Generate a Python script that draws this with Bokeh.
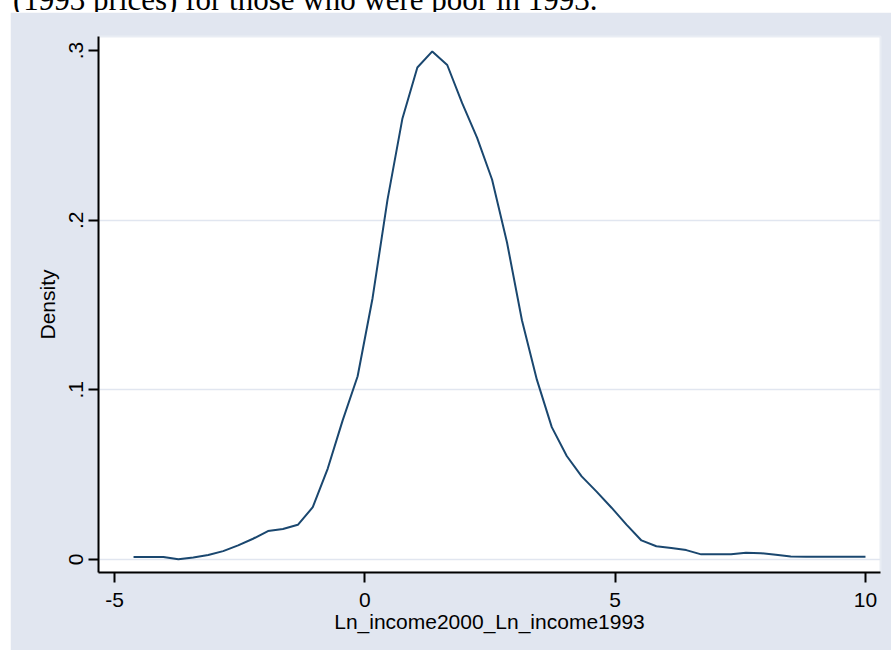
from bokeh.plotting import figure
from bokeh.models import FixedTicker, Range1d, Div
from bokeh.layouts import column
from bokeh.embed import file_html
from bokeh.resources import INLINE

# ---- data ----
x_vals = [-4.620, -4.322, -4.023, -3.725, -3.427, -3.128, -2.830, -2.531, -2.233, -1.935,
          -1.636, -1.338, -1.040, -0.741, -0.443, -0.144, 0.154, 0.452, 0.751, 1.049,
          1.347, 1.646, 1.944, 2.243, 2.541, 2.839, 3.138, 3.436, 3.734, 4.033,
          4.331, 4.629, 4.928, 5.226, 5.525, 5.823, 6.121, 6.420, 6.718, 7.016,
          7.315, 7.613, 7.912, 8.210, 8.508, 8.807, 9.105, 9.403, 9.702, 10.000]
density = [0.0015, 0.0015, 0.0015, 0.0001, 0.0012, 0.0026, 0.0049, 0.0083, 0.0122, 0.0167,
           0.0179, 0.0204, 0.0308, 0.0536, 0.0820, 0.1080, 0.1540, 0.2120, 0.2600, 0.2900,
           0.2995, 0.2915, 0.2690, 0.2485, 0.2240, 0.1870, 0.1410, 0.1060, 0.0780, 0.0610,
           0.0490, 0.0400, 0.0305, 0.0205, 0.0112, 0.0078, 0.0068, 0.0055, 0.0030, 0.0030,
           0.0030, 0.0040, 0.0037, 0.0028, 0.0018, 0.0016, 0.0016, 0.0016, 0.0016, 0.0016]

x_ticks = [-5, 0, 5, 10]
x_tick_labels = ["-5", "0", "5", "10"]
y_ticks = [0, 0.1, 0.2, 0.3]
y_tick_labels = ["0", ".1", ".2", ".3"]
y_grid_ticks = [0, 0.1, 0.2]
caption = "(1993 prices) for those who were poor in 1993."
x_title = "Ln_income2000_Ln_income1993"
y_title = "Density"

BG = "#E1E6F0"
LINE = "#1A476F"
SANS = "Liberation Sans"

# ---- cut-off caption strip on top (the text continues above the page) ----
caption_html = (
    '<div style="position:relative; top:-16px; left:13px; white-space:nowrap; '
    'font-family:\'Liberation Serif\', serif; font-size:31px; line-height:31px; color:black;">'
    + caption + '</div>'
)
top = Div(text=caption_html, width=891, height=12, margin=0,
          styles={"overflow": "hidden", "background-color": "white"})

# ---- main density plot ----
p = figure(width=881, height=638, x_range=Range1d(-5.32, 10.30), y_range=Range1d(-0.0077, 0.3083),
           toolbar_location=None, output_backend="svg",
           min_border_left=88, min_border_right=11, min_border_top=24, min_border_bottom=78,
           background_fill_color="white", border_fill_color=BG)
p.margin = (0, 0, 0, 10)
p.outline_line_color = "#E9EDF4"
p.outline_line_width = 2

p.line(x_vals, density, line_color=LINE, line_width=2)

p.xgrid.visible = False
p.ygrid.ticker = FixedTicker(ticks=y_grid_ticks)
p.ygrid.grid_line_color = BG
p.ygrid.grid_line_width = 1.5

p.xaxis.ticker = FixedTicker(ticks=x_ticks)
p.xaxis.major_label_overrides = {t: l for t, l in zip(x_ticks, x_tick_labels)}
p.yaxis.ticker = FixedTicker(ticks=y_ticks)
p.yaxis.major_label_overrides = {t: l for t, l in zip(y_ticks, y_tick_labels)}
p.yaxis.major_label_orientation = "vertical"

for ax in (p.xaxis, p.yaxis):
    ax.axis_line_color = "black"
    ax.axis_line_width = 2
    ax.major_tick_line_color = "black"
    ax.major_tick_line_width = 2
    ax.major_tick_in = 0
    ax.major_tick_out = 10
    ax.minor_tick_line_color = None
    ax.major_label_text_font = SANS
    ax.major_label_text_font_size = "21px"
    ax.major_label_text_color = "black"
    ax.axis_label_text_font = SANS
    ax.axis_label_text_font_size = "21px"
    ax.axis_label_text_font_style = "normal"
    ax.axis_label_text_color = "black"

p.xaxis.axis_label = x_title
p.yaxis.axis_label = y_title
p.xaxis.major_label_standoff = 10
p.yaxis.major_label_standoff = 5
p.xaxis.axis_label_standoff = 0
p.yaxis.axis_label_standoff = 8

layout = column(top, p, spacing=0)
layout.margin = 0

open("out.html", "w").write(file_html(layout, INLINE))
